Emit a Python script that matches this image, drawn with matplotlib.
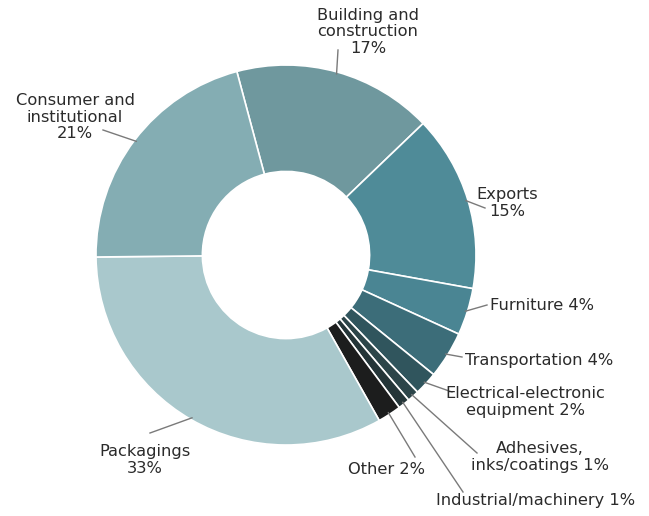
import numpy as np
import matplotlib
matplotlib.use("Agg")
import matplotlib.pyplot as plt

# data, clockwise from the top
names = ["Building and\nconstruction", "Exports", "Furniture", "Transportation",
         "Electrical-electronic\nequipment", "Adhesives,\ninks/coatings",
         "Industrial/machinery", "Other", "Packagings", "Consumer and\ninstitutional"]
shares = [17, 15, 4, 4, 2, 1, 1, 2, 33, 21]
colors = ["#6f989e", "#4f8b98", "#4a8593", "#3c6d79", "#30555d", "#2c4549",
          "#243538", "#1c1d1d", "#a9c8cc", "#84adb3"]

# label layout in pixel coords (x, y from top), alignment, leader end
label_pos = [(368, 32), (507, 203), (490, 306), (465, 360), (525, 402),
             (540, 457), (436, 500), (425, 470), (145, 460), (75, 117)]
label_ha = ["center", "center", "left", "left", "center",
            "center", "left", "right", "center", "center"]
leader_end = [(338, 50), (485, 208), (487, 305), (462, 357), (452, 392),
              (477, 453), (463, 492), (415, 457), (150, 433), (103, 130)]
one_line = [False, False, True, True, True, True, True, True, False, False]

W, H = 649, 516
cx, cy, R = 286, H - 255, 190
start = 105

plt.rcParams['font.family'] = ['DejaVu Sans']
fig = plt.figure(figsize=(W / 100, H / 100), dpi=100)
ax = fig.add_axes([0, 0, 1, 1])

wedges, _ = ax.pie(shares, colors=colors, startangle=start, counterclock=False,
                   center=(cx, cy), radius=R,
                   wedgeprops=dict(width=R * 0.56, edgecolor='white', linewidth=1.2))
ax.set_xlim(0, W)
ax.set_ylim(0, H)
ax.set_aspect('equal')
ax.axis('off')

for i, w in enumerate(wedges):
    mid = np.deg2rad((w.theta1 + w.theta2) / 2)
    x0, y0 = cx + (R - 2) * np.cos(mid), cy + (R - 2) * np.sin(mid)
    ex, ey = leader_end[i]
    ax.plot([x0, ex], [y0, H - ey], color='#7a7a7a', lw=1.0)
    if one_line[i]:
        txt = names[i] + " " + str(shares[i]) + "%"
    else:
        txt = names[i] + "\n" + str(shares[i]) + "%"
    lx, ly = label_pos[i]
    ax.text(lx, H - ly, txt, ha=label_ha[i], va='center', multialignment='center',
            fontsize=11.7, color='#2b2b2b', linespacing=1.1)

fig.savefig("out.png", dpi=100, facecolor='white')
